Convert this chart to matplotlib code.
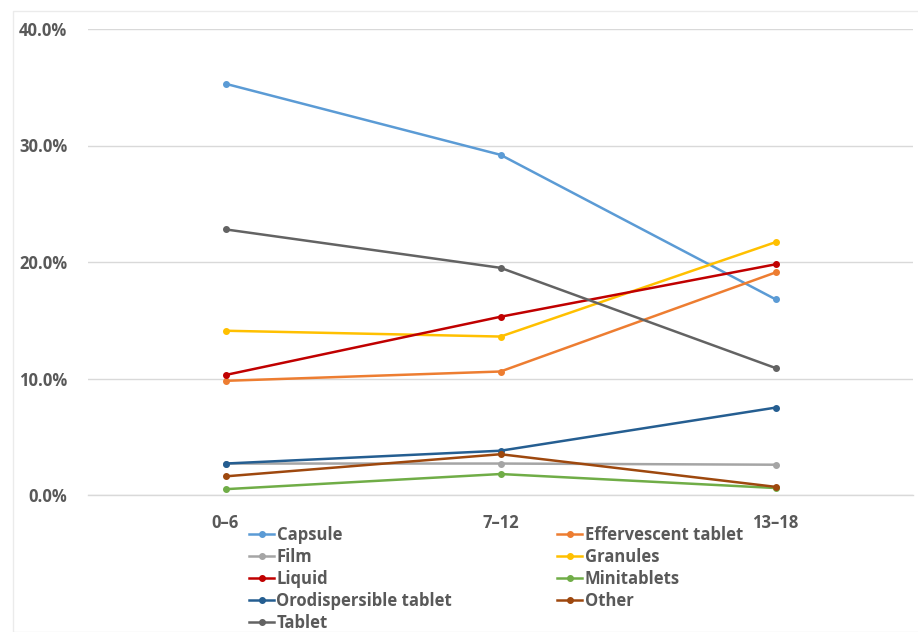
import matplotlib
matplotlib.use("Agg")
import matplotlib.pyplot as plt
from matplotlib.ticker import FuncFormatter, MultipleLocator
from matplotlib.patches import Rectangle

categories = ["0\u20136", "7\u201312", "13\u201318"]

capsule = [35.3, 29.2, 16.8]
effervescent = [9.8, 10.6, 19.1]
film = [2.7, 2.7, 2.6]
granules = [14.1, 13.6, 21.7]
liquid = [10.3, 15.3, 19.8]
minitablets = [0.5, 1.8, 0.6]
orodispersible = [2.7, 3.8, 7.5]
other = [1.6, 3.5, 0.7]
tablet = [22.8, 19.5, 10.9]

series_names = ["Capsule", "Effervescent tablet", "Film", "Granules", "Liquid",
                "Minitablets", "Orodispersible tablet", "Other", "Tablet"]
series_values = [capsule, effervescent, film, granules, liquid,
                 minitablets, orodispersible, other, tablet]
series_colors = ["#5B9BD5", "#ED7D31", "#A5A5A5", "#FFC000", "#C00000",
                 "#70AD47", "#255E91", "#9E480E", "#636363"]

plt.rcParams['font.family'] = ['Open Sans', 'DejaVu Sans']

fig = plt.figure(figsize=(9.18, 6.32), dpi=100)
fig.patches.append(Rectangle((13/918, 0), 1.0, 1 - 11/632, transform=fig.transFigure,
                             fill=False, edgecolor="#EBEBEB", linewidth=1.0))
ax = fig.add_axes([88/918, 1 - 495/632, (913 - 88)/918, (495 - 29)/632])

x = list(range(len(categories)))
handles = {}
for name, vals, col in zip(series_names, series_values, series_colors):
    h, = ax.plot(x, vals, color=col, linewidth=1.8, marker="o", markersize=4,
                 label=name, zorder=3)
    handles[name] = h

ax.set_xlim(-0.5, 2.5)
ax.set_ylim(0, 40)
ax.yaxis.set_major_locator(MultipleLocator(10))
ax.yaxis.set_major_formatter(FuncFormatter(lambda v, p: f"{v:.1f}%"))
ax.set_xticks(x)
ax.set_xticklabels(categories)
ax.grid(axis="y", color="#D9D9D9", linewidth=1.0, zorder=0)
for s in ["top", "right", "left"]:
    ax.spines[s].set_visible(False)
ax.spines["bottom"].set_color("#D9D9D9")
ax.spines["bottom"].set_linewidth(1.0)
ax.tick_params(axis="both", length=0, labelsize=12, labelcolor="#595959")
ax.tick_params(axis="y", pad=15)
ax.tick_params(axis="x", pad=14)
for lbl in ax.get_xticklabels() + ax.get_yticklabels():
    lbl.set_fontweight("bold")

order = ["Capsule", "Film", "Liquid", "Orodispersible tablet", "Tablet",
         "Effervescent tablet", "Granules", "Minitablets", "Other"]
leg = fig.legend([handles[n] for n in order], order, ncol=2,
                 loc="upper left", bbox_to_anchor=(249/918, 1 - 526/632),
                 frameon=False, handlelength=1.5, handletextpad=0.15,
                 columnspacing=6.3, labelspacing=0.24,
                 prop={"size": 12, "weight": "bold"}, borderaxespad=0,
                 borderpad=0)
for t in leg.get_texts():
    t.set_color("#595959")

fig.savefig("out.png", dpi=100)
